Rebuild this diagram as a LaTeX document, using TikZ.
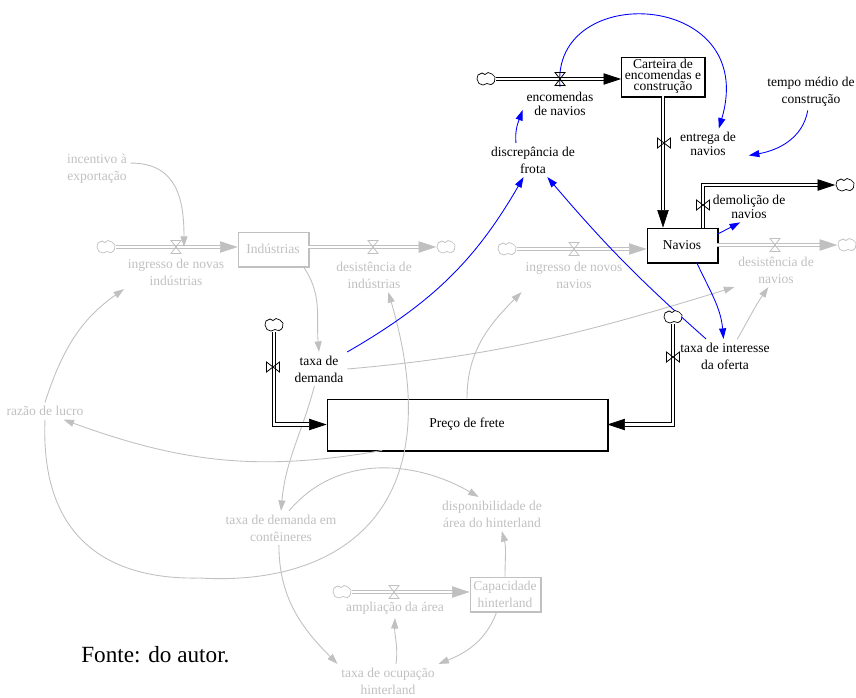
\documentclass[tikz,border=0pt]{standalone}
\usepackage{fontspec}
\setmainfont{Liberation Serif}
\usetikzlibrary{arrows.meta}

\definecolor{gris}{RGB}{192,192,192}
\definecolor{bleu}{RGB}{0,0,255}

\tikzset{
  % Texte des variables auxiliaires
  etiq/.style={align=center, inner sep=2pt, font=\fontsize{7.7}{9.6}\selectfont},
  serre/.style={font=\fontsize{7.7}{6.2}\selectfont},
  moyen/.style={font=\fontsize{7.7}{8}\selectfont},
  % Niveaux (stocks)
  stock/.style={etiq, draw, line width=.5pt, inner sep=0pt},
  % Nuages : sources et puits (le contour est trace par la pic nuageforme)
  nuage/.style={inner sep=0pt, minimum width=.38cm, minimum height=.27cm},
  % Tuyaux des flux (double trait)
  tuyau/.style={double=white, double distance=1.3pt, line width=.55pt,
    -{Triangle[length=10pt, width=6.5pt, line width=.4pt]}},
  % Liens de causalite
  lien/.style={line width=.5pt, -{Triangle[length=6pt, width=4pt]}},
  % Vanne (sablier)
  vanne/.pic={\draw[line width=.45pt] (-5,-6.5) -- (5,-6.5) -- (-5,6.5) -- (5,6.5) -- cycle;},
  nuageforme/.pic={\draw[line width=.4pt, fill=white] plot[smooth cycle, tension=.8] coordinates
    {(-9,0) (-8,-4) (-4,-6) (-1,-4.5) (2,-6.5) (6,-5) (9,-2) (8.5,2.5) (5,5.5) (1,4.5) (-3,6) (-7,4.5)};}
}

\begin{document}
\begin{tikzpicture}[x=0.02cm, y=-0.02cm]

  % Cadre de la figure
  \useasboundingbox (0,0) rectangle (856,697);

  % Variables du bloc navios / frete
  \node[nuage] (nuageA) at (486,79) {};
  \node[stock, serre, minimum width=1.66cm, minimum height=.78cm] (carteira) at (663,76.5) {Carteira de\\encomendas e\\construção};
  \coordinate (vE) at (560,79);
  \node[etiq, moyen] (encomendas) at (560,104) {encomendas\\de navios};
  \node[etiq] (discrepancia) at (533,160) {discrepância de\\frota};
  \coordinate (vEn) at (664,143);
  \node[etiq, serre] (entrega) at (708,144) {entrega de\\navios};
  \node[etiq] (tempo) at (811,92) {tempo médio de\\construção};
  \node[stock, minimum width=1.4cm, minimum height=.68cm] (navios) at (682,245) {Navios};
  \node[nuage] (nuageD) at (845,185) {};
  \coordinate (vD) at (703,205);
  \node[etiq, serre] (demolicao) at (749,207) {demolição de\\navios};
  \node[stock, minimum width=5.6cm, minimum height=1.02cm] (preco) at (467,424.5) {Preço de frete};
  \node[nuage] (nuageE) at (274,325) {};
  \node[nuage] (nuageF) at (673,317) {};
  \coordinate (vPg) at (273,367);
  \coordinate (vPd) at (673,357);
  \node[etiq] (demanda) at (319,369) {taxa de\\demanda};
  \node[etiq] (interesse) at (725,356) {taxa de interesse\\da oferta};
  \node[font=\fontsize{13.2}{15}\selectfont, anchor=west, inner sep=0pt] (source) at (81,655) {Fonte: do autor.};

  % Ombre des niveaux noirs
  \foreach \b in {carteira, navios, preco}
    \draw[line width=.5pt] ([xshift=.02cm]\b.north east) -- ([xshift=.02cm, yshift=-.02cm]\b.south east) -- ([yshift=-.02cm]\b.south west);

  % Partie grise : industries, conteneurs et hinterland
  \begin{scope}[color=gris]
    \node[etiq] (incentivo) at (97,169) {incentivo à\\exportação};
    \node[nuage] (nuageG1) at (106,247) {};
    \node[stock, minimum width=1.4cm, minimum height=.68cm] (industrias) at (273,249) {Indústrias};
    \node[nuage] (nuageG2) at (446,247) {};
    \coordinate (vI1) at (176,247);
    \coordinate (vI2) at (373,247);
    \node[etiq] (ingressoI) at (176,272) {ingresso de novas\\indústrias};
    \node[etiq] (desistenciaI) at (374,275) {desistência de\\indústrias};
    \node[nuage] (nuageG3) at (507,249) {};
    \coordinate (vN1) at (574,249);
    \node[etiq] (ingressoN) at (574,275) {ingresso de novos\\navios};
    \node[nuage] (nuageG4) at (847,245) {};
    \coordinate (vN2) at (775,245);
    \node[etiq] (desistenciaN) at (776,270) {desistência de\\navios};
    \node[etiq] (razao) at (45,411) {razão de lucro};
    \node[etiq] (conteineres) at (281,528) {taxa de demanda em\\contêineres};
    \node[etiq] (disponibilidade) at (492,514) {disponibilidade de\\área do hinterland};
    \node[stock, minimum width=1.4cm, minimum height=.68cm] (capacidade) at (505,594) {Capacidade\\hinterland};
    \node[nuage] (nuageG5) at (342,592) {};
    \coordinate (vA) at (394,592);
    \node[etiq] (ampliacao) at (395,608) {ampliação da área};
    \node[etiq] (ocupacao) at (388,681) {taxa de ocupação\\hinterland};

    % Ombre des niveaux gris
    \foreach \b in {industrias, capacidade}
      \draw[line width=.5pt] ([xshift=.02cm]\b.north east) -- ([xshift=.02cm, yshift=-.02cm]\b.south east) -- ([yshift=-.02cm]\b.south west);

    % Flux gris
    \draw[tuyau] (nuageG1) -- (nuageG1 -| industrias.west);
    \draw[tuyau] (industrias.east |- vI2) -- (nuageG2);
    \draw[tuyau] (nuageG3) -- (nuageG3 -| navios.west);
    \draw[tuyau] (navios.east |- vN2) -- (nuageG4);
    \draw[tuyau] (nuageG5) -- (nuageG5 -| capacidade.west);
    \foreach \vn in {vI1, vI2, vN1, vN2, vA}
      \pic at (\vn) {vanne};
    \foreach \n in {nuageG1, nuageG2, nuageG3, nuageG4, nuageG5}
      \pic at (\n) {nuageforme};

    % Liens gris
    \draw[lien] (incentivo.10) to[out=0, in=90, looseness=1.2] ([xshift=.16cm]vI1);
    \draw[lien] (industrias.-30) to[out=-55, in=95] (demanda.north);
    \draw[lien] (demanda.-105) to[out=-105, in=85] (conteineres.north);
    \draw[lien] (conteineres.65) to[out=50, in=150] (disponibilidade.128);
    \draw[lien] (conteineres.-97) to[out=-90, in=135] (ocupacao.north west);
    \draw[lien] (capacidade.-115) to[out=-110, in=22] (ocupacao.north east);
    \draw[lien] (ocupacao.65) to[out=82, in=-92] (ampliacao.south);
    \draw[lien] (capacidade.north) to[out=90, in=-75] (disponibilidade.-60);
    \draw[lien] (preco.-163) to[out=190, in=-20] (razao.-25);
    \draw[lien] (razao.north) to[out=72, in=215] (ingressoI.south west);
    \draw[lien] (razao.south) .. controls (40,540) and (110,580) .. (200,578)
                              .. controls (330,586) and (455,520) .. (desistenciaI.-50);
    \draw[lien] (preco.north) to[out=90, in=225] (ingressoN.south west);
    \draw[lien] (demanda.east) to[out=5, in=197] (desistenciaN.south west);
    \draw[lien] (interesse.54) to[out=60, in=235] (desistenciaN.-114);
  \end{scope}

  % Liens bleus
  \draw[lien, bleu] (discrepancia.135) to[out=95, in=-110] (encomendas.189);
  \draw[lien, bleu] ([yshift=-.16cm]vE) .. controls (550,-20) and (760,-10) .. (entrega.55);
  \draw[lien, bleu] (tempo.-100) to[out=-100, in=10] ([xshift=.18cm, yshift=.08cm]entrega.south east);
  \draw[lien, bleu] (navios.17) -- (demolicao.240);
  \draw[lien, bleu] (navios.-50) to[out=-65, in=95] (interesse.95);
  \draw[lien, bleu] (interesse.138) to[bend left=4] (discrepancia.-50);
  \draw[lien, bleu] (demanda.north east) to[out=30, in=-120] (discrepancia.-119);

  % Flux noirs
  \draw[tuyau] (nuageA) -- (nuageA -| carteira.west);
  \draw[tuyau] (carteira.south) -- (carteira.south |- navios.north);
  \draw[tuyau] (navios.north -| vD) |- (nuageD);
  \draw[tuyau] (nuageE) |- (preco.west);
  \draw[tuyau] (nuageF) |- (preco.east);
  \foreach \vn/\rot in {vE/0, vEn/90, vD/90, vPg/90, vPd/90}
    \pic[rotate=\rot] at (\vn) {vanne};
  \foreach \n in {nuageA, nuageD, nuageE, nuageF}
    \pic at (\n) {nuageforme};

\end{tikzpicture}
\end{document}
